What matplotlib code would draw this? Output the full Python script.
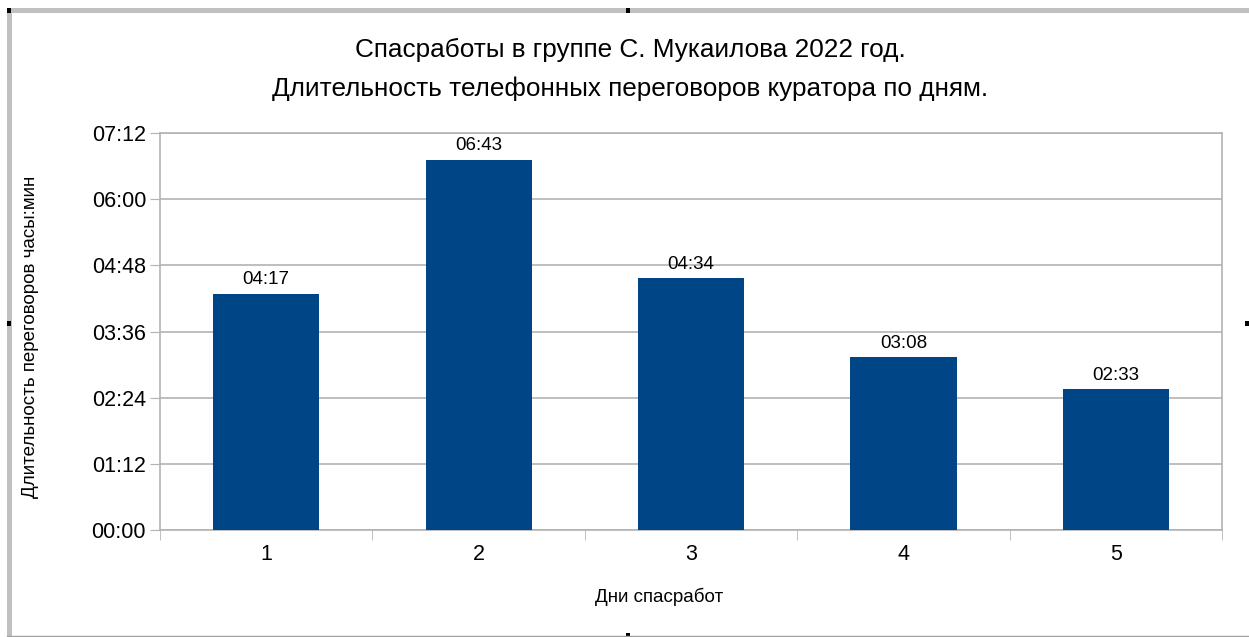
import matplotlib
matplotlib.use("Agg")
import matplotlib.pyplot as plt
from matplotlib.patches import Rectangle
from matplotlib.lines import Line2D

plt.rcParams['font.family'] = ['Liberation Sans', 'DejaVu Sans']

days = ["1", "2", "3", "4", "5"]
labels = ["04:17", "06:43", "04:34", "03:08", "02:33"]
minutes = [257, 403, 274, 188, 153]
ytick_labels = ["00:00", "01:12", "02:24", "03:36", "04:48", "06:00", "07:12"]
ytick_minutes = [0, 72, 144, 216, 288, 360, 432]
title1 = "Спасработы в группе С. Мукаилова 2022 год."
title2 = "Длительность телефонных переговоров куратора по дням."
xlabel = "Дни спасработ"
ylabel = "Длительность переговоров часы:мин"

W, H = 1249, 637
fig = plt.figure(figsize=(W / 100, H / 100), dpi=100)
fig.patch.set_facecolor("white")

ax = fig.add_axes([160 / W, (H - 530) / H, (1222 - 160) / W, (530 - 133) / H])
x = list(range(len(days)))
ax.bar(x, minutes, width=0.5, color="#004586", zorder=3)
ax.set_xlim(-0.5, len(days) - 0.5)
ax.set_ylim(0, 432)
ax.set_yticks(ytick_minutes)
ax.set_yticklabels(ytick_labels, fontsize=15.5)
ax.set_xticks(x)
ax.set_xticklabels(days, fontsize=15.5)
ax.set_xticks([i + 0.5 for i in range(-1, len(days))], minor=True)
ax.tick_params(axis="x", which="major", length=0, pad=10)
ax.tick_params(axis="x", which="minor", length=7, color="#b3b3b3", direction="out")
ax.tick_params(axis="y", length=7, color="#b3b3b3", pad=3)
ax.grid(axis="y", color="#b3b3b3", linewidth=1.2, zorder=0)
for s in ax.spines.values():
    s.set_color("#b3b3b3")
    s.set_linewidth(1.2)

for xi, m, lab in zip(x, minutes, labels):
    ax.annotate(lab, (xi, m), xytext=(0, 4), textcoords="offset points",
                ha="center", va="bottom", fontsize=13.5)

fig.text(630 / W, 1 - 50 / H, title1, ha="center", va="center", fontsize=18.8)
fig.text(630 / W, 1 - 89 / H, title2, ha="center", va="center", fontsize=18.8)
fig.text(659 / W, 1 - 597 / H, xlabel, ha="center", va="center", fontsize=13.5)
fig.text(31 / W, 1 - 337 / H, ylabel, ha="center", va="center", rotation=90, fontsize=13.5)

# frame of the chart object
fig.add_artist(Rectangle((7 / W, 1 - 13 / H), (1249 - 7) / W, 5 / H, transform=fig.transFigure,
                         color="#c0c0c0", lw=0))
fig.add_artist(Rectangle((7 / W, 1 - 637 / H), 5 / W, (637 - 8) / H, transform=fig.transFigure,
                         color="#c0c0c0", lw=0))
fig.add_artist(Line2D([7 / W, 1], [1 - 635.5 / H, 1 - 635.5 / H], transform=fig.transFigure,
                      color="#a0a0a0", lw=1))
# selection handles
for (hx, hy) in [(7, 8), (626, 8), (7, 321), (1245, 321), (626, 633)]:
    fig.add_artist(Rectangle((hx / W, 1 - (hy + 5) / H), 4 / W, 5 / H,
                             transform=fig.transFigure, color="black", lw=0))

fig.savefig("out.png", dpi=100)
